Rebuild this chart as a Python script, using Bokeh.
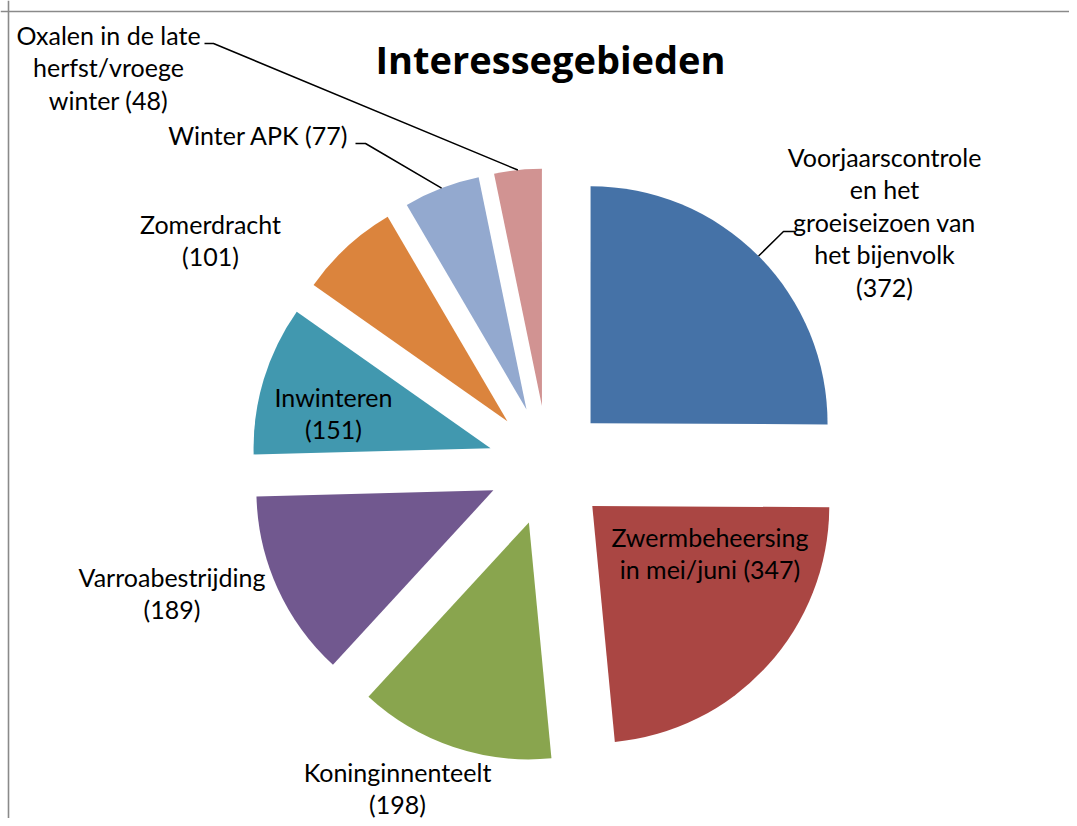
import numpy as np
from bokeh.plotting import figure
from bokeh.models import Range1d, Span, ColumnDataSource
from bokeh.core.properties import value
from bokeh.embed import file_html
from bokeh.resources import INLINE

# ---------------- data ----------------
categories = [
    "Voorjaarscontrole en het groeiseizoen van het bijenvolk",
    "Zwermbeheersing in mei/juni",
    "Koninginnenteelt",
    "Varroabestrijding",
    "Inwinteren",
    "Zomerdracht",
    "Winter APK",
    "Oxalen in de late herfst/vroege winter",
]
values = [372, 347, 198, 189, 151, 101, 77, 48]
label_lines = [
    ["Voorjaarscontrole", "en het", "groeiseizoen van", "het bijenvolk", "({v})"],
    ["Zwermbeheersing", "in mei/juni ({v})"],
    ["Koninginnenteelt", "({v})"],
    ["Varroabestrijding", "({v})"],
    ["Inwinteren", "({v})"],
    ["Zomerdracht", "({v})"],
    ["Winter APK ({v})"],
    ["Oxalen in de late", "herfst/vroege", "winter ({v})"],
]
title_text = "Interessegebieden"

# ---------------- styles / layout ----------------
colors = ["#4572A7", "#AA4643", "#89A54E", "#71588F",
          "#4198AF", "#DB843D", "#93A9CF", "#D19392"]
W, H = 1069, 818
FONT = "Lato"

def sx(x):  # picture px -> data x
    return x

def sy(y):  # picture px -> data y
    return H - y

center = (sx(547.5), sy(465))
radius = 237
explode = 60
# label layout: (center x, first baseline y) in picture px
label_pos = [(884, 156), (709.5, 536), (397, 771), (171.5, 576),
             (333, 396), (210, 223), (258, 134), (108, 34)]
line_gap = 32.6
# leader stubs (picture px): (stub outer x, stub inner x, y)
leaders = {0: (795, 783, 231), 6: (355, 365, 143), 7: (204, 213, 43)}

# ---------------- geometry from values ----------------
vals = np.array(values, dtype=float)
fr = vals / vals.sum()
ends_cum = np.cumsum(fr)
starts_cum = ends_cum - fr
a_start = np.pi / 2 - 2 * np.pi * starts_cum   # clockwise from top
a_end = np.pi / 2 - 2 * np.pi * ends_cum
mid = (a_start + a_end) / 2
wx = center[0] + explode * np.cos(mid)
wy = center[1] + explode * np.sin(mid)

src = ColumnDataSource(dict(x=wx, y=wy, start=a_end, end=a_start,
                            color=colors, name=categories, val=values))

p = figure(width=W, height=H, output_backend="svg", toolbar_location=None,
           x_range=Range1d(0, W), y_range=Range1d(0, H), min_border=0,
           background_fill_color="white", border_fill_color="white")
p.axis.visible = False
p.grid.visible = False
p.outline_line_color = None

p.wedge(x="x", y="y", radius=radius, start_angle="start", end_angle="end",
        fill_color="color", line_color=None, source=src)

# frame (left and top edges visible in the crop)
p.add_layout(Span(location=sx(8), dimension="height", line_color="#8a8a8a", line_width=1.6))
p.add_layout(Span(location=sy(11), dimension="width", line_color="#8a8a8a", line_width=1.6))

# title
p.text(x=[sx(550)], y=[sy(58)], text=[title_text], text_font=value("Open Sans"),
       text_font_size="38px", text_font_style="bold", text_color="#000000",
       text_align="center", text_baseline="alphabetic")

# data labels
tx, ty, tt = [], [], []
for i, lines in enumerate(label_lines):
    cx, by = label_pos[i]
    for k, ln in enumerate(lines):
        tx.append(sx(cx))
        ty.append(sy(by + k * line_gap))
        tt.append(ln.format(v=values[i]))
p.text(x=tx, y=ty, text=tt, text_font=value(FONT), text_font_size="25px",
       text_color="#000000", text_align="center", text_baseline="alphabetic")

# leader lines
xs, ys = [], []
for i, (x_out, x_in, yy) in leaders.items():
    ex = wx[i] + radius * np.cos(mid[i])
    ey = wy[i] + radius * np.sin(mid[i])
    xs.append([sx(x_out), sx(x_in), ex])
    ys.append([sy(yy), sy(yy), ey])
p.multi_line(xs=xs, ys=ys, line_color="#000000", line_width=1.5)

open("out.html", "w").write(file_html(p, INLINE))
